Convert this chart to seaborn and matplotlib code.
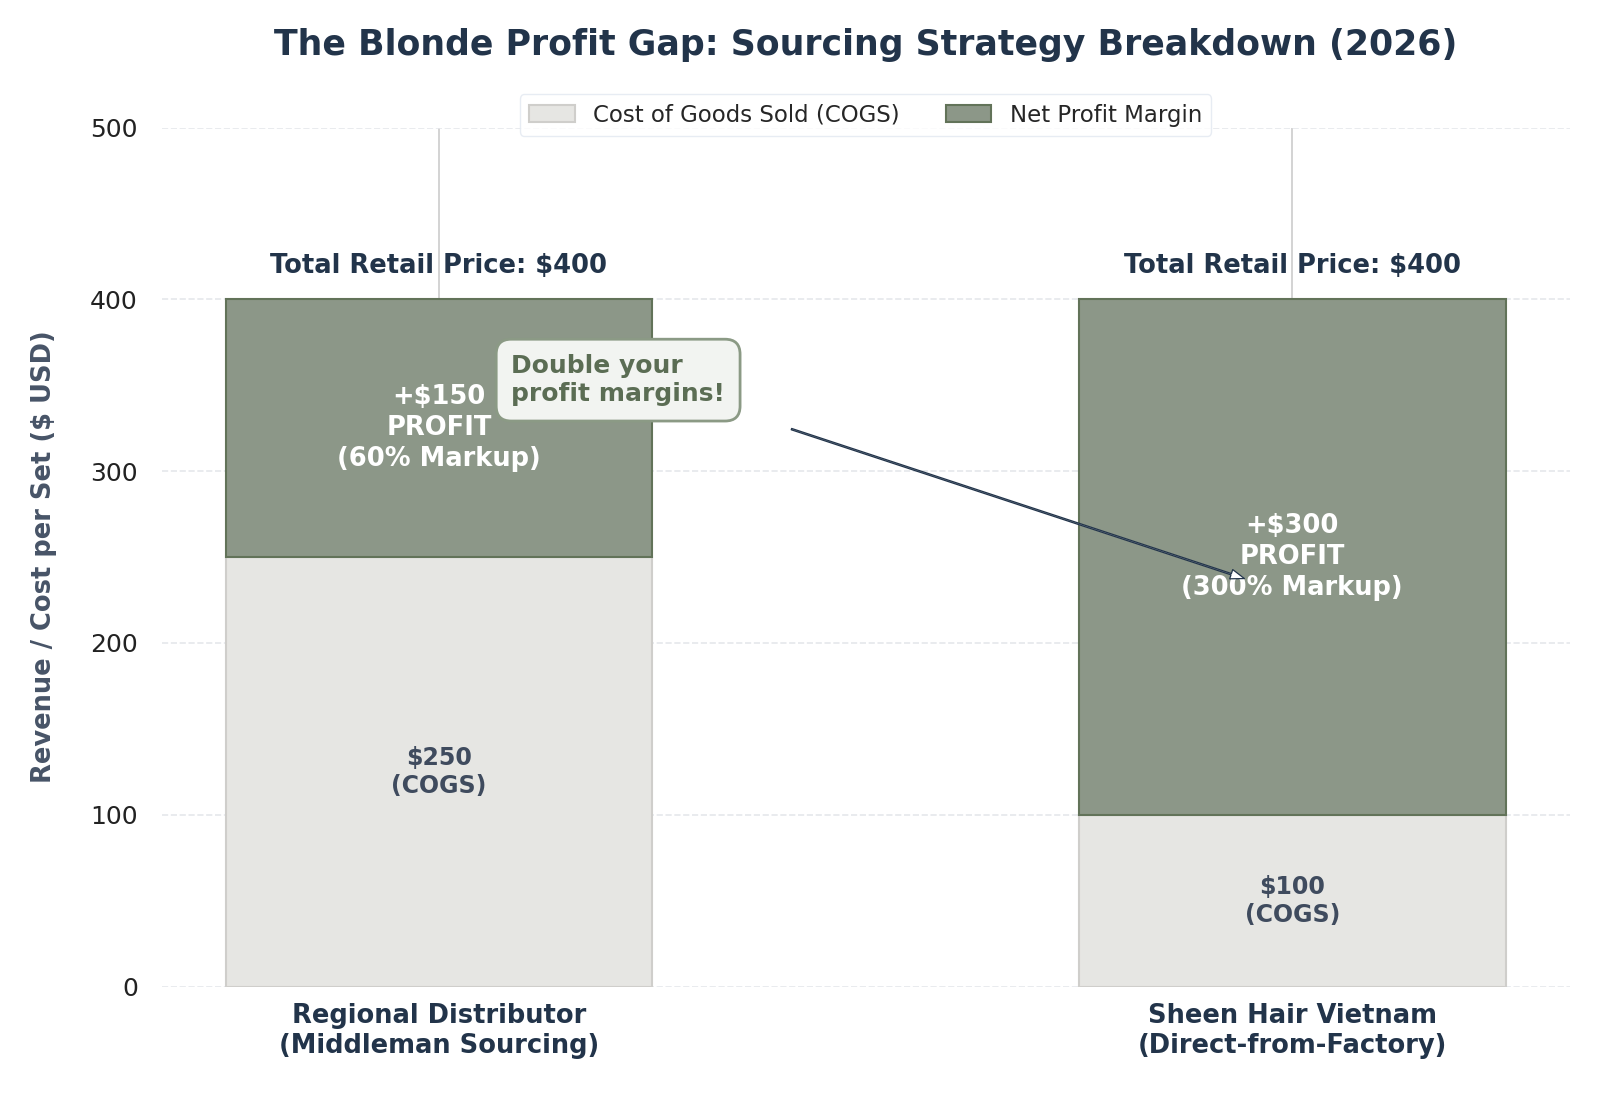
import matplotlib
matplotlib.use("Agg")
from matplotlib import pyplot as plt
import seaborn as sns
import pandas as pd

# Data
suppliers = ["Regional Distributor\n(Middleman Sourcing)", "Sheen Hair Vietnam\n(Direct-from-Factory)"]
cogs = [250, 100]
profit = [150, 300]
markup = ["60%", "300%"]
retail = [c + p for c, p in zip(cogs, profit)]

df = pd.DataFrame({"supplier": suppliers, "cogs": cogs, "profit": profit})

# Style
sns.set_style("whitegrid")
plt.rcParams["font.family"] = ["DejaVu Sans"]

navy = "#22344a"
sage = "#8b9a85"
sage_dark = "#627359"
stone = "#e7e6e2"

fig, ax = plt.subplots(figsize=(16, 10.95), dpi=100)
fig.subplots_adjust(left=0.101, right=0.981, bottom=0.099, top=0.8835)

# Bars: COGS on the bottom, profit stacked on top
sns.barplot(data=df, x="supplier", y="cogs", width=0.5, color=stone,
            edgecolor="#cfcecb", linewidth=1.5, label="Cost of Goods Sold (COGS)", ax=ax)
sns.barplot(data=df, x="supplier", y="profit", width=0.5, color=sage, bottom=cogs,
            edgecolor=sage_dark, linewidth=1.5, label="Net Profit Margin", ax=ax)

ax.set_xlim(-0.325, 1.325)
ax.set_ylim(0, 500)
ax.set_yticks(range(0, 501, 100))

# Grid: solid vertical, dashed horizontal
ax.xaxis.grid(True, color="#cccccc", linestyle="-", linewidth=1.2)
ax.yaxis.grid(True, color="#e5e7eb", linestyle="--", linewidth=1.2)
ax.set_axisbelow(True)
for s in ax.spines.values():
    s.set_visible(False)
ax.tick_params(axis="both", length=0)
ax.tick_params(axis="y", labelsize=18, labelcolor="#222222", pad=17)
ax.tick_params(axis="x", pad=12)
for lbl in ax.get_xticklabels():
    lbl.set_fontsize(18.5)
    lbl.set_fontweight("bold")
    lbl.set_color(navy)

ax.set_xlabel("")
ax.set_ylabel("Revenue / Cost per Set ($ USD)", fontsize=18.5, fontweight="bold",
              color="#475467", labelpad=24)
ax.set_title("The Blonde Profit Gap: Sourcing Strategy Breakdown (2026)",
             fontsize=25, fontweight="bold", color=navy, pad=52)

# Labels in and above the bars
for i in range(len(suppliers)):
    ax.text(i, cogs[i] / 2, f"${cogs[i]}\n(COGS)", ha="center", va="center",
            fontsize=17, fontweight="bold", color="#3f4b5e")
    ax.text(i, cogs[i] + profit[i] / 2, f"+${profit[i]}\nPROFIT\n({markup[i]} Markup)",
            ha="center", va="center", fontsize=18.5, fontweight="bold", color="white",
            linespacing=1.25)
    ax.text(i, retail[i] + 12, f"Total Retail Price: ${retail[i]}", ha="center",
            va="bottom", fontsize=18.5, fontweight="bold", color=navy)

# Callout
ax.text(0.21, 353, "Double your\nprofit margins!", ha="center", va="center",
        fontsize=18, fontweight="bold", color="#5b6d54", multialignment="left",
        bbox=dict(boxstyle="round,pad=0.6", facecolor="#f2f4f1", edgecolor=sage, linewidth=2))
ax.annotate("", xy=(0.947, 237), xytext=(0.41, 325),
            arrowprops=dict(arrowstyle="simple,head_width=0.7,head_length=1.0,tail_width=0.1",
                            facecolor="white", edgecolor=navy, linewidth=0.9))

ax.legend(loc="upper center", bbox_to_anchor=(0.5, 1.052), ncol=2, fontsize=16.5,
          frameon=True, edgecolor="#e2e8f0", handlelength=2, columnspacing=2)

plt.savefig("out.png", dpi=100)
